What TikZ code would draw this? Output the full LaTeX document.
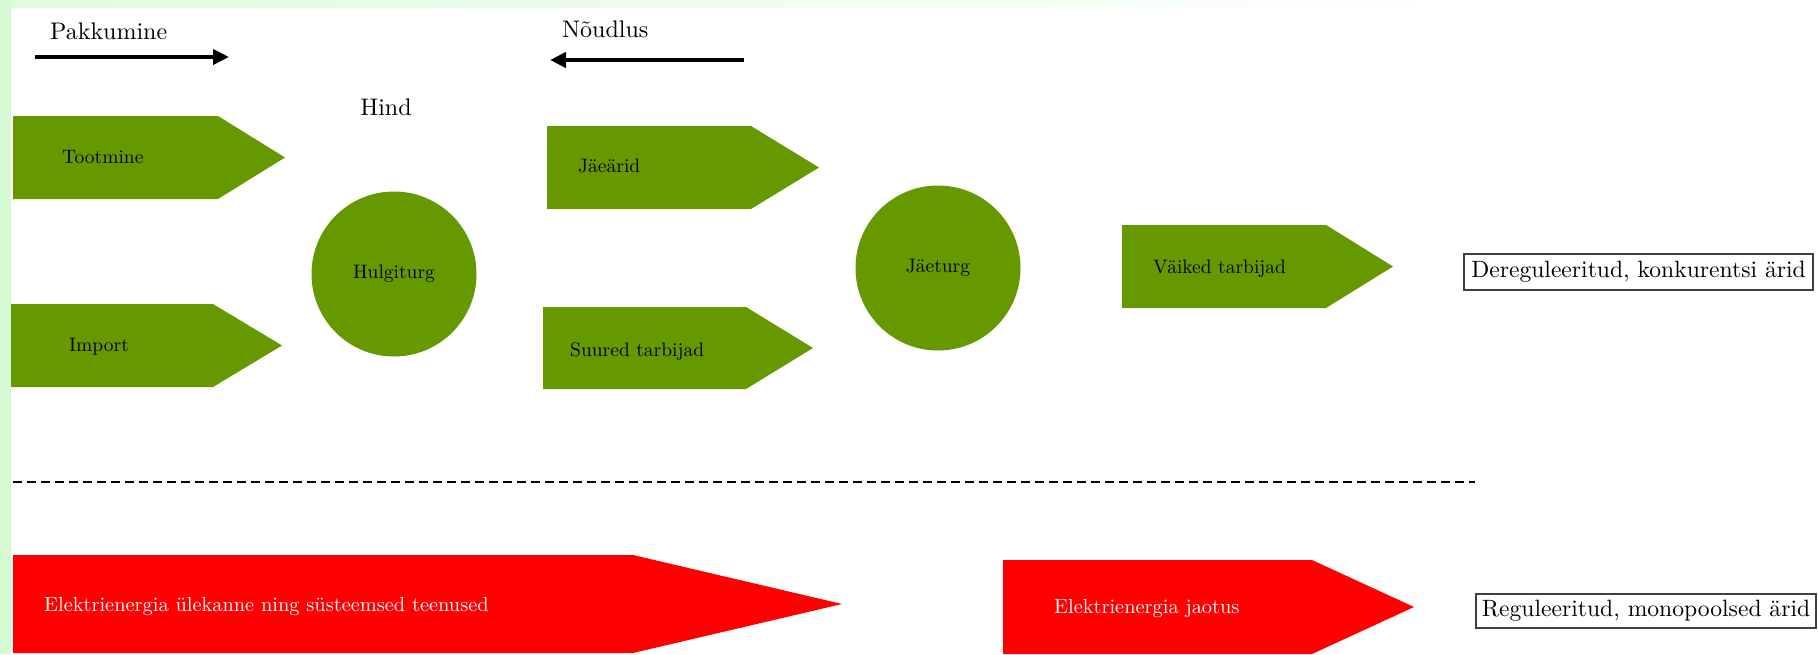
\documentclass[tikz,border=0pt]{standalone}
\usepackage{fontspec}
\setmainfont{lmroman10-regular}[Extension=.otf,BoldFont=lmroman10-bold]
\usepackage{tikz}
\usetikzlibrary{arrows.meta,positioning}
\definecolor{roheline}{RGB}{102,153,0}
\definecolor{taust}{RGB}{214,251,212}
\newcommand{\noolkast}[6]{\fill[#6] (#1,#2) -- (#3,#2) -- (#4,{(#2+#5)/2}) -- (#3,#5) -- (#1,#5) -- cycle;}

\begin{document}
\begin{tikzpicture}[x=1pt,y=-1pt]
\tikzset{
  silt/.style={anchor=base west,inner sep=0pt,font=\fontsize{19.5}{23}\selectfont},
  valge/.style={anchor=base west,inner sep=0pt,text=white,font=\fontsize{20.4}{24}\selectfont},
  pealkiri/.style={inner sep=0pt,font=\fontsize{24}{28}\selectfont},
  ring/.style={circle,fill=roheline,minimum size=165pt,inner sep=0pt,
    font=\fontsize{19.5}{23}\selectfont},
  tyyp/.style={draw=black!75,line width=1.3pt,inner sep=0pt,
    font=\fontsize{23.6}{28}\selectfont},
  fl/.style={-{Triangle[length=16pt,width=15pt]},line width=4pt},
  kriips/.style={dash pattern=on 9pt off 5pt,line width=1.8pt}
}
\useasboundingbox (0,0) rectangle (1818,654);
\fill[white] (0,0) rectangle (1818,654);
\fill[taust] (0,0) rectangle (11,654);
\shade[left color=taust!80,right color=white] (11,0) rectangle (1480,7);

\node[pealkiri,anchor=base west] (pakkumine) at (50,39) {Pakkumine};
\coordinate (pak-a) at (35,57);
\coordinate (pak-b) at (229,57);
\draw[fl] (pak-a) -- (pak-b);
\node[pealkiri,anchor=base west] (noudlus) at (562,37) {Nõudlus};
\coordinate (nou-a) at (744,60);
\coordinate (nou-b) at (550,60);
\draw[fl] (nou-a) -- (nou-b);

\noolkast{13}{116}{218}{285}{199}{roheline}
\noolkast{11}{304}{213}{282}{387}{roheline}
\noolkast{547}{126}{751}{819}{209}{roheline}
\noolkast{543}{307}{746}{813}{389}{roheline}
\noolkast{1122}{225}{1326}{1393}{308}{roheline}
\noolkast{13}{555}{633}{842}{653}{red}
\noolkast{1003}{560}{1312}{1414}{654}{red}

\node[silt] (tootmine) at (62,163.5) {Tootmine};
\node[silt] (import) at (69,351.5) {Import};
\node[silt] (jaearid) at (578,172.5) {Jäeärid};
\node[silt] (suured) at (570,356.5) {Suured tarbijad};
\node[silt] (vaiked) at (1153,273.5) {Väiked tarbijad};

\node[ring] (hulgiturg) at (394,274) {Hulgiturg};
\node[ring] (jaeturg) at (938,268) {Jäeturg};
\node[pealkiri,above=75pt of hulgiturg,xshift=-8pt] (hind) {Hind};

\coordinate (jaotus-a) at (13,482);
\coordinate (jaotus-b) at (1475,482);
\draw[kriips] (jaotus-a) -- (jaotus-b);

\node[valge] (ylekanne) at (44,611) {Elektrienergia ülekanne ning süsteemsed teenused};
\node[valge] (jaotus) at (1054,613) {Elektrienergia jaotus};

\node[tyyp,minimum width=349pt,minimum height=36pt] (dereg) at (1638.5,272)
  {Dereguleeritud, konkurentsi ärid};
\node[tyyp,minimum width=340pt,minimum height=34pt] (reg) at (1646,611)
  {Reguleeritud, monopoolsed ärid};
\end{tikzpicture}
\end{document}
